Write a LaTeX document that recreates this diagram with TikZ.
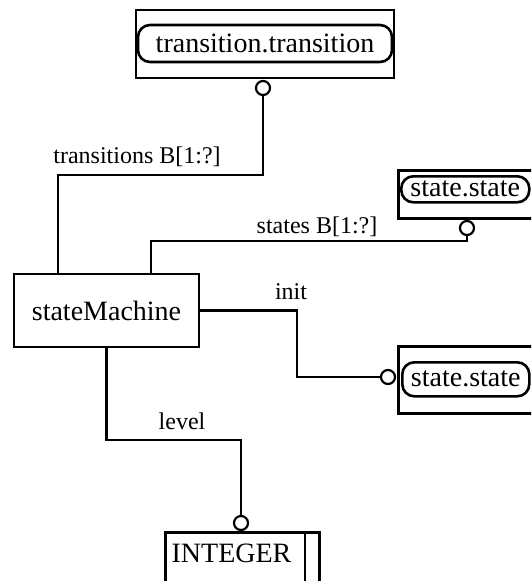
\documentclass[tikz,border=0pt]{standalone}
\usepackage{fontspec}
\setmainfont{Liberation Serif}
\usetikzlibrary{calc}

\begin{document}
\begin{tikzpicture}[
    x=1pt, y=-1pt,
    ent/.style={draw, line width=2.6pt, minimum width=185pt, minimum height=73pt,
                inner sep=0pt, font=\fontsize{28}{32}\selectfont},
    refbox/.style={draw, line width=2.6pt, inner sep=0pt},
    pill/.style={draw, line width=2.6pt, rounded corners=12pt, inner sep=0pt,
                 font=\fontsize{28}{32}\selectfont},
    con/.style={line width=2.2pt},
    ring/.style={circle, draw, line width=2.2pt, fill=white, minimum size=14pt,
                 inner sep=0pt},
    lbl/.style={font=\fontsize{24}{28}\selectfont, inner sep=0pt},
    tname/.style={font=\fontsize{28}{32}\selectfont, inner sep=0pt},
]
\clip (0,0) rectangle (531,581);

% ===================== Entidad =====================
\node[ent] (sm) at (106.5,310.5) {stateMachine};

% ===================== transition.transition =====================
\node[refbox, minimum width=258pt, minimum height=68pt] (trbox) at (265,44) {};
\node[pill, minimum width=254pt, minimum height=37pt] (trref) at (265,43.5)
      {transition.transition};
\node[ring] (ringT) at (263,88) {};

% ===================== state.state (states) =====================
\node[refbox, minimum width=150pt, minimum height=48pt, anchor=north west]
      (stbox) at (397,169) {};
\node[pill, minimum width=128pt, minimum height=26pt, anchor=north west]
      (stref) at (400,175) {state.state};
\node[ring] (ringS) at (467,228) {};

% ===================== state.state (init) =====================
\node[refbox, minimum width=150pt, minimum height=67pt, anchor=north west]
      (inbox) at (397,345) {};
\node[pill, minimum width=127pt, minimum height=34pt, anchor=north west]
      (inref) at (401,361) {state.state};
\node[ring] (ringI) at (388,377) {};

% ===================== INTEGER =====================
\node[refbox, minimum width=154pt, minimum height=80pt, anchor=north west]
      (intbox) at (164,531) {};
\draw[con] ($(intbox.north east)+(-16,0)$) -- ($(intbox.south east)+(-16,0)$);
\node[tname] (intname) at (231.5,553) {INTEGER};
\node[ring] (ringL) at (241,523) {};

% ===================== Atributos =====================
\coordinate (smT1) at ($(sm.north west)+(45,0)$);
\coordinate (smT2) at ($(sm.north west)+(138,0)$);

\draw[con] (smT1) -- ++(0,-98) -| (ringT.south);
\node[lbl] (lbT) at (137,157) {transitions B[1:?]};

\draw[con] (smT2) -- ++(0,-32) -| (ringS.south);
\node[lbl] (lbS) at (317,227) {states B[1:?]};

\draw[con] (sm.east) -- ++(97,0) |- (ringI.west);
\node[lbl] (lbI) at (291,292) {init};

\draw[con] (sm.south) -- ++(0,92) -| (ringL.north);
\node[lbl] (lbL) at (182,421) {level};

\end{tikzpicture}
\end{document}
